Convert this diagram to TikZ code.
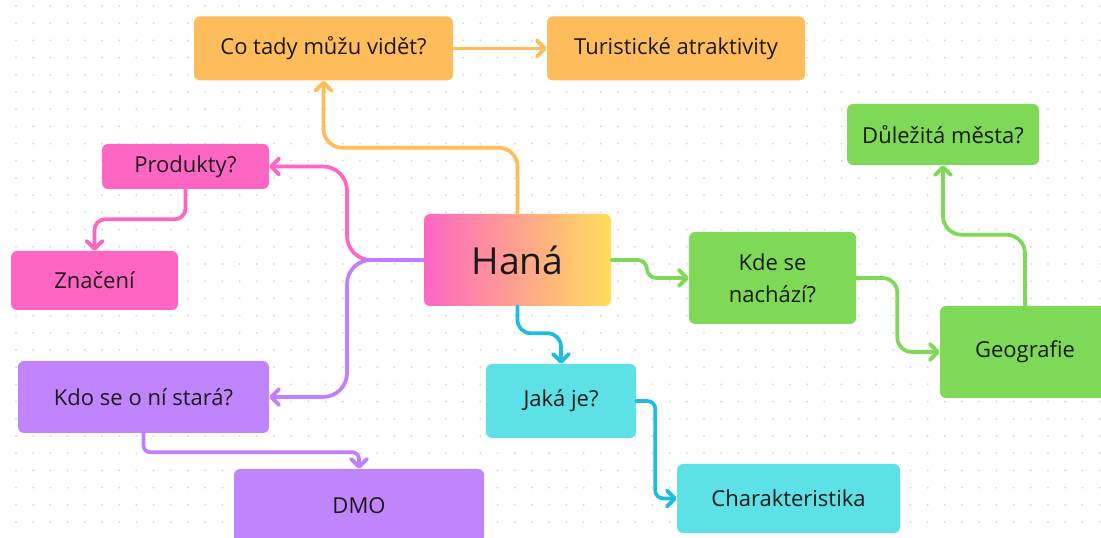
\documentclass[tikz,border=0pt]{standalone}
\usepackage{fontspec}
\setmainfont{Open Sans}
\usetikzlibrary{arrows.meta}
\definecolor{corange}{HTML}{FFBC5A}
\definecolor{cpink}{HTML}{FF66C4}
\definecolor{cpurple}{HTML}{C084FC}
\definecolor{cgreen}{HTML}{7ED957}
\definecolor{ccyan}{HTML}{5CE1E6}
\definecolor{lorange}{HTML}{FFBD59}
\definecolor{lpink}{HTML}{FF66C4}
\definecolor{lpurple}{HTML}{C17FFF}
\definecolor{lgreen}{HTML}{7ED957}
\definecolor{lcyan}{HTML}{1EBCE0}
\definecolor{hyellow}{HTML}{FFDE59}
\definecolor{dotc}{HTML}{DCDCDC}
\definecolor{txt}{HTML}{1A1A1A}
\begin{document}
\begin{tikzpicture}[x=0.75pt,y=-0.75pt,
  box/.style={rounded corners=4.5pt, inner sep=0pt, text=txt, align=center,
    font=\fontsize{16.5}{24}\selectfont},
  conn/.style={line width=2.8pt, line cap=round, line join=round,
    -{Straight Barb[length=6pt,width=12pt,round]}},
]
\useasboundingbox (0,0) rectangle (1101,538);
\fill[white] (0,0) rectangle (1101,538);
\foreach \i in {0,...,64} {\foreach \j in {0,...,31} {\fill[dotc] (16+17.2*\i,6+17.2*\j) circle (0.85pt);}}

% boxes
\node[box, fill=corange, minimum width=259*0.75pt, minimum height=64*0.75pt] (cotady) at (323.5,48.5) {Co tady můžu vidět?};
\node[box, fill=corange, minimum width=258*0.75pt, minimum height=64*0.75pt] (turist) at (676,48.5) {Turistické atraktivity};
\node[box, fill=cpink, minimum width=167*0.75pt, minimum height=45*0.75pt] (produkty) at (185.5,166.5) {Produkty?};
\node[box, fill=cpink, minimum width=167*0.75pt, minimum height=59*0.75pt] (znaceni) at (94.5,280.5) {Značení};
\node[box, left color=cpink, right color=hyellow, minimum width=187*0.75pt, minimum height=92*0.75pt, font=\fontsize{28}{32}\selectfont] (hana) at (517.5,260) {Haná};
\node[box, fill=cgreen, minimum width=167*0.75pt, minimum height=92*0.75pt] (kde) at (772.5,278) {Kde se\\nachází?};
\node[box, fill=cgreen, minimum width=192*0.75pt, minimum height=61*0.75pt] (dulezita) at (943,134.5) {Důležitá města?};
\node[box, fill=cgreen, minimum width=170*0.75pt, minimum height=92*0.75pt] (geo) at (1025,352) {Geografie};
\node[box, fill=cpurple, minimum width=251*0.75pt, minimum height=72*0.75pt] (kdo) at (143.5,397) {Kdo se o ní stará?};
\node[box, fill=cpurple, minimum width=250*0.75pt, minimum height=74*0.75pt] (dmo) at (359,506) {DMO};
\node[box, fill=ccyan, minimum width=150*0.75pt, minimum height=74*0.75pt] (jaka) at (561,401) {Jaká je?};
\node[box, fill=ccyan, minimum width=223*0.75pt, minimum height=69*0.75pt] (char) at (788.5,498.5) {Charakteristika};

% connectors
\draw[conn, lorange, rounded corners=14pt] (hana.north) -- ++(0,-66) -| (cotady.south);
\draw[conn, lorange] (cotady.east) -- (turist.west);
\draw[conn, lpink, rounded corners=18pt] (hana.west) -- (347,260) |- (produkty.east);
\draw[conn, lpurple, rounded corners=18pt] (hana.west) -- (347,260) |- (kdo.east);
\draw[conn, lpink, rounded corners=8pt] (produkty.south) -- ++(0,30) -| (znaceni.north);
\draw[conn, lpurple, rounded corners=5pt] (kdo.south) -- ++(0,19) -| (dmo.north);
\draw[conn, lgreen, rounded corners=7pt] (hana.east) -- (647,260) |- (kde.west);
\draw[conn, lgreen, rounded corners=11pt] (kde.east) -- ++(41,0) |- (geo.west);
\draw[conn, lgreen, rounded corners=14pt] (geo.north) -- ++(0,-71) -| (dulezita.south);
\draw[conn, lcyan, rounded corners=10pt] (hana.south) -- ++(0,27) -| (jaka.north);
\draw[conn, lcyan, rounded corners=6pt] (jaka.east) -- ++(19,0) |- (char.west);
\end{tikzpicture}
\end{document}
